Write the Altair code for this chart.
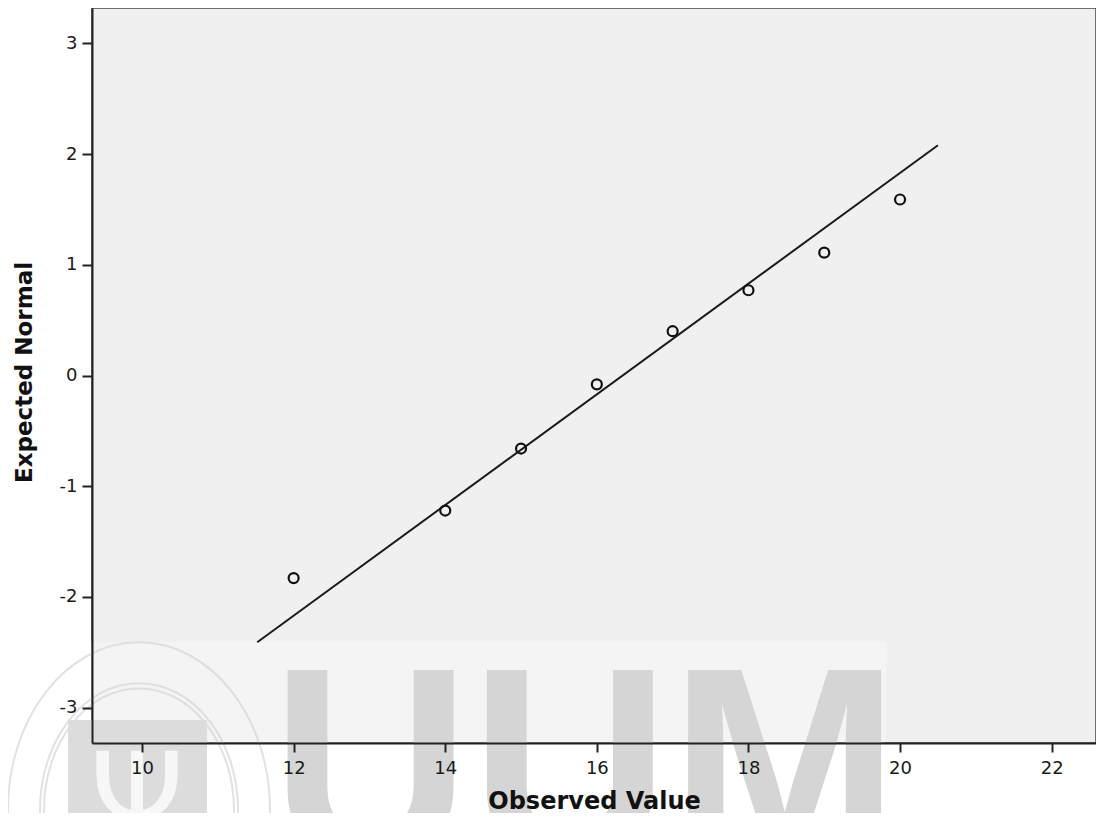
import altair as alt
import pandas as pd

observed = [12, 14, 15, 16, 17, 18, 19, 20]
expected = [-1.83, -1.22, -0.66, -0.08, 0.40, 0.77, 1.11, 1.59]

# Reference line end points
line_x = [11.52, 20.5]
line_y = [-2.41, 2.08]

x_ticks = [10, 12, 14, 16, 18, 20, 22]
y_ticks = [-3, -2, -1, 0, 1, 2, 3]

pts = pd.DataFrame({"obs": observed, "exp": expected})
ln = pd.DataFrame({"obs": line_x, "exp": line_y})

W, H = 1004, 735

xscale = alt.Scale(domain=[9.34, 22.585], nice=False, zero=False)
yscale = alt.Scale(domain=[-3.32, 3.32], nice=False, zero=False)

xaxis = alt.Axis(values=x_ticks, title="Observed Value", grid=False,
                 labelExpr="'' + datum.value",
                 labelFont="DejaVu Sans", labelFontSize=18, labelColor="#1a1a1a",
                 labelPadding=7, tickSize=9, tickWidth=2, tickColor="#222222",
                 domainColor="#222222", domainWidth=2,
                 titleFont="DejaVu Sans", titleFontSize=24, titleFontWeight="bold",
                 titleColor="#111111", titleBaseline="alphabetic", titleY=65,
                 titlePadding=0, zindex=2)
yaxis = alt.Axis(values=y_ticks, title="Expected Normal", grid=False,
                 labelExpr="'' + datum.value",
                 labelFont="DejaVu Sans", labelFontSize=18, labelColor="#1a1a1a",
                 labelPadding=5, tickSize=10, tickWidth=2, tickColor="#222222",
                 domainColor="#222222", domainWidth=2,
                 titleFont="DejaVu Sans", titleFontSize=23, titleFontWeight="bold",
                 titleColor="#111111", titleAngle=-90, titleBaseline="alphabetic",
                 titleAlign="center", titleX=-61, titleY=364, zindex=2)

one = alt.Data(values=[{"k": 1}])

# faint watermark (overlay band, seal rings, letters)
band = alt.Chart(one).mark_rect(fill="white", opacity=0.28).encode(
    x=alt.value(-92), x2=alt.value(794), y=alt.value(634), y2=alt.value(830))

ell = "M -1 0 A 1 1.28 0 1 1 1 0 A 1 1.28 0 1 1 -1 0 Z"
ring1 = alt.Chart(one).mark_point(shape=ell, filled=False, stroke="#d6d6d6",
                                  strokeWidth=2, size=68644).encode(
    x=alt.value(47), y=alt.value(802))
ring2 = alt.Chart(one).mark_point(shape=ell, filled=False, stroke="#d6d6d6",
                                  strokeWidth=2, size=39204).encode(
    x=alt.value(47), y=alt.value(802))
ring3 = alt.Chart(one).mark_point(shape=ell, filled=False, stroke="#d6d6d6",
                                  strokeWidth=2, size=36100).encode(
    x=alt.value(47), y=alt.value(802))
shield = alt.Chart(one).mark_rect(fill="#dcdcdc").encode(
    x=alt.value(-24), x2=alt.value(115), y=alt.value(712), y2=alt.value(830))
emblem = alt.Chart(one).mark_text(text="Ψ", font="DejaVu Sans", fontSize=120,
                                  color="#f7f7f7", align="center", baseline="alphabetic").encode(
    x=alt.value(45), y=alt.value(830))

letters = alt.Chart(one).mark_text(text="UUM", font="Liberation Sans", fontWeight="bold",
                                   fontSize=276, color="#d5d5d5", align="left",
                                   baseline="alphabetic").encode(
    x=alt.value(179), y=alt.value(852))

line = alt.Chart(ln).mark_line(color="#1a1a1a", strokeWidth=2).encode(
    x=alt.X("obs:Q", scale=xscale, axis=xaxis),
    y=alt.Y("exp:Q", scale=yscale, axis=yaxis))

points = alt.Chart(pts).mark_point(shape="circle", filled=False, color="#111111",
                                   strokeWidth=2.2, size=100, opacity=1).encode(
    x=alt.X("obs:Q", scale=xscale),
    y=alt.Y("exp:Q", scale=yscale))

chart = alt.layer(band, ring1, ring2, ring3, shield, emblem, letters, line, points).properties(
    width=W, height=H,
    autosize=alt.AutoSizeParams(type="none"),
    padding={"left": 84, "top": 0, "right": 0, "bottom": 70},
    background="white",
).configure_view(fill="#f0f0f0", stroke="#444444", strokeWidth=1.5)

chart.save("out.html", embed_options={"renderer": "svg", "actions": False})
